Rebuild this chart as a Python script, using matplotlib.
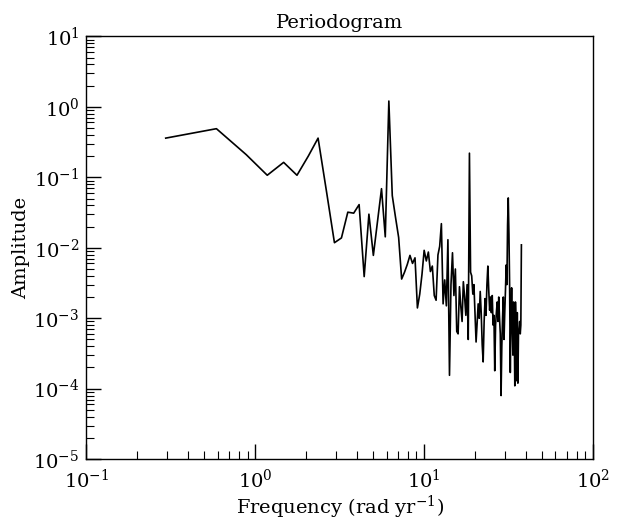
import matplotlib
matplotlib.use("Agg")
import matplotlib.pyplot as plt
from matplotlib.ticker import LogLocator, NullFormatter, FixedLocator

plt.rcParams['font.family'] = ['DejaVu Serif']
plt.rcParams['mathtext.fontset'] = 'dejavuserif'

# Frequencies (rad/yr), 128 harmonics
freq = [0.295, 0.589, 0.884, 1.178, 1.473, 1.767, 2.062, 2.356, 2.651, 2.945,
        3.240, 3.534, 3.829, 4.123, 4.418, 4.712, 5.007, 5.301, 5.596, 5.890,
        6.185, 6.480, 6.774, 7.069, 7.363, 7.658, 7.952, 8.247, 8.541, 8.836,
        9.130, 9.425, 9.719, 10.01, 10.31, 10.60, 10.90, 11.19, 11.49, 11.78,
        12.08, 12.37, 12.66, 12.96, 13.25, 13.55, 13.84, 14.14, 14.43, 14.73,
        15.02, 15.32, 15.61, 15.90, 16.20, 16.49, 16.79, 17.08, 17.38, 17.67,
        17.97, 18.26, 18.56, 18.85, 19.14, 19.44, 19.73, 20.03, 20.32, 20.62,
        20.91, 21.21, 21.50, 21.79, 22.09, 22.38, 22.68, 22.97, 23.27, 23.56,
        23.86, 24.15, 24.45, 24.74, 25.03, 25.33, 25.62, 25.92, 26.21, 26.51,
        26.80, 27.10, 27.39, 27.68, 27.98, 28.27, 28.57, 28.86, 29.16, 29.45,
        29.75, 30.04, 30.34, 30.63, 30.93, 31.22, 31.51, 31.81, 32.10, 32.40,
        32.69, 32.99, 33.28, 33.58, 33.87, 34.16, 34.46, 34.75, 35.05, 35.34,
        35.64, 35.93, 36.23, 36.52, 36.82, 37.11, 37.41, 37.70]

amplitude = [0.36, 0.49, 0.21, 0.107, 0.163, 0.107, 0.20, 0.36, 0.060, 0.0118,
             0.0138, 0.032, 0.031, 0.041, 0.0039, 0.030, 0.0078, 0.024, 0.069, 0.0143,
             1.21, 0.055, 0.027, 0.0140, 0.0036, 0.0045, 0.0058, 0.0078, 0.0060, 0.0072,
             0.0014, 0.0022, 0.0042, 0.0092, 0.0065, 0.0087, 0.0046, 0.0055, 0.0021, 0.0018,
             0.0079, 0.0105, 0.022, 0.0016, 0.0035, 0.0015, 0.013, 0.000155, 0.0030, 0.0085,
             0.0021, 0.0050, 0.00065, 0.0006, 0.0028, 0.0015, 0.0009, 0.0033, 0.0020, 0.0011,
             0.0030, 0.0005, 0.22, 0.0045, 0.0040, 0.0022, 0.0030, 0.0012, 0.00046, 0.0009,
             0.0016, 0.0010, 0.0024, 0.0012, 0.00042, 0.00024, 0.0009, 0.0019, 0.0011, 0.0030,
             0.0055, 0.0025, 0.0013, 0.0020, 0.0012, 0.0021, 0.0008, 0.0011, 0.00018, 0.0008,
             0.0012, 0.0017, 0.0009, 0.0020, 0.0010, 0.0006, 0.00008, 0.0004, 0.0010, 0.0020,
             0.0005, 0.0012, 0.0025, 0.0057, 0.0030, 0.021, 0.051, 0.0155, 0.0030, 0.00017,
             0.0010, 0.0027, 0.0008, 0.00030, 0.0017, 0.0009, 0.00011, 0.0017, 0.0008, 0.00013,
             0.0012, 0.00012, 0.0006, 0.0007, 0.0009, 0.0006, 0.0008, 0.011]

x_ticks = [0.1, 1, 10, 100]
x_ticklabels = ['$10^{-1}$', '$10^{0}$', '$10^{1}$', '$10^{2}$']
y_ticks = [1e-5, 1e-4, 1e-3, 1e-2, 1e-1, 1, 10]
y_ticklabels = ['$10^{-5}$', '$10^{-4}$', '$10^{-3}$', '$10^{-2}$',
                '$10^{-1}$', '$10^{0}$', '$10^{1}$']

fig = plt.figure(figsize=(6.17, 5.2), dpi=100)
ax = fig.add_axes([0.140, 0.117, 0.821, 0.813])
ax.plot(freq, amplitude, color='black', linewidth=1.2)
ax.set_xscale('log')
ax.set_yscale('log')
ax.set_xlim(0.1, 100)
ax.set_ylim(1e-5, 10)

ax.set_xticks(x_ticks)
ax.set_xticklabels(x_ticklabels)
ax.set_yticks(y_ticks)
ax.set_yticklabels(y_ticklabels)
ax.xaxis.set_minor_locator(LogLocator(base=10, subs=range(2, 10), numticks=20))
ax.yaxis.set_minor_locator(LogLocator(base=10, subs=range(2, 10), numticks=20))
ax.xaxis.set_minor_formatter(NullFormatter())
ax.yaxis.set_minor_formatter(NullFormatter())
ax.set_xlim(0.1, 100)
ax.set_ylim(1e-5, 10)

ax.tick_params(which='both', direction='in', top=False, right=False, labelsize=14)
ax.tick_params(which='major', length=11, width=1)
ax.tick_params(which='minor', length=6, width=0.8)
ax.tick_params(axis='x', which='major', pad=7)
ax.tick_params(axis='y', which='major', pad=5)
for s in ax.spines.values():
    s.set_linewidth(1.0)

ax.set_title('Periodogram', fontsize=14, pad=6)
ax.set_xlabel('Frequency (rad yr$^{-1}$)', fontsize=14, labelpad=1)
ax.set_ylabel('Amplitude', fontsize=14, labelpad=2)

fig.savefig('out.png', dpi=100)
